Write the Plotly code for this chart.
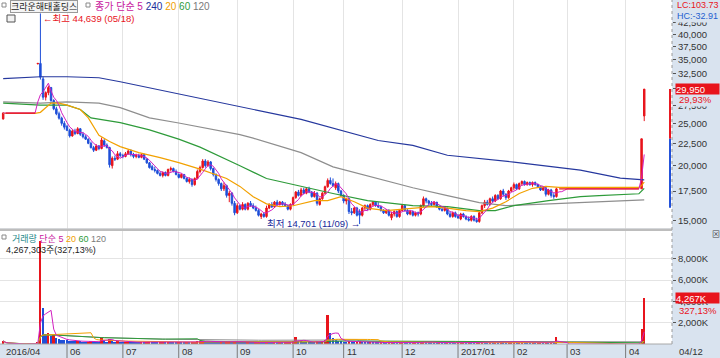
import math
import pandas as pd
import plotly.graph_objects as go

# ---------------- data ----------------
# trading-day index, 0 = 2016-06-01
day_index = list(range(-24, 218))

opens = [
    25600,
    26400, 26400, 26400, 26400, 26400, 26400, 26400, 26400, 26400, 26400, 26400, 26400,
    34200, 34300, 31600, 28700, 29400, 30200, 28200, 27000, 26300, 25700, 25000,
    24600, 24100, 23400, 24000, 23700, 24300, 23600, 23300, 23000, 22500,
    22000, 21700, 22200, 21900, 22800, 22300, 22000, 20000, 20800, 20700,
    21300, 21100, 21000, 21300, 21600, 21200, 21000, 21100, 20900, 21200,
    20700, 20300, 19900, 19600, 19500, 19200, 19000, 19300, 19000, 19600,
    19700, 19400, 19100, 18800, 19100, 18700, 18400, 18600, 18100, 18700,
    19400, 19800, 20500, 20000, 20400, 19700, 19100, 18600, 18200, 17700,
    18000, 17100, 17300, 16400, 15600, 16200, 15900, 16300, 15900, 16400,
    16200, 16000, 15800, 15300, 15500, 15300, 16000, 16300, 16100, 16500,
    16300, 16500, 16300, 16200, 15900, 16300, 16900, 17400, 17100, 17600,
    17300, 17700, 17400, 17000, 17300, 16300, 16800, 17300, 17900, 18500,
    18200, 17800, 18200, 17500, 17100, 16600, 16800, 15700, 15600, 16000,
    15700, 15400, 16000, 16200, 15900, 16300, 16500, 16200, 16100, 15800,
    15600, 15800, 15200, 15500, 15700, 15300, 15800, 16200, 15800, 15500,
    15700, 15400, 15600, 15500, 16200, 16800, 16600, 16400, 16300, 16500,
    16100, 15900, 15800, 16000, 15500, 15300, 15600, 15300, 15100, 15500,
    15300, 15100, 15000, 15300, 15000, 14900, 15600, 16200, 16500, 16300,
    16800, 16600, 17100, 16800, 17500, 17200, 16900, 17500, 17800, 18100,
    17700, 18200, 18400, 18100, 18300, 18100, 18300, 18100, 17900, 17600,
    17800, 17200, 17600, 17100, 17000,
    17700, 17700, 17700, 17700, 17700, 17700, 17700, 17700, 17700, 17700,
    17700, 17700, 17700, 17700, 17700, 17700, 17700, 17700, 17700, 17700,
    17700, 17700, 17700, 17700, 17700, 17700, 17700, 17700, 17700, 17700, 17700,
    17700, 26000,
]

highs = [
    26500,
    26400, 26400, 26400, 26400, 26400, 26400, 26400, 26400, 26400, 26400, 26400, 26400,
    34300, 44639, 32000, 29600, 30500, 30300, 28400, 27300, 26600, 25900, 25300,
    24800, 24300, 24200, 24300, 24500, 24400, 23900, 23500, 23100, 22700,
    22200, 22400, 22300, 23200, 23000, 22500, 22100, 21000, 21100, 21600,
    21500, 21300, 21500, 21800, 21800, 21400, 21300, 21300, 21300, 21300,
    20800, 20400, 20100, 19900, 19600, 19400, 19400, 19400, 19700, 19900,
    19800, 19600, 19200, 19200, 19100, 18800, 18800, 18700, 18800, 19600,
    20000, 20700, 20700, 20600, 20500, 19800, 19200, 18700, 18300, 18300,
    18100, 17500, 17400, 16600, 16400, 16300, 16500, 16400, 16500, 16600,
    16400, 16200, 15900, 15600, 15600, 16200, 16400, 16500, 16600, 16700,
    16600, 16600, 16500, 16300, 16400, 17000, 17500, 17600, 17800, 17800,
    17800, 17900, 17500, 17500, 17400, 16900, 17400, 18000, 18700, 18800,
    18700, 18400, 18300, 17600, 17200, 16900, 16900, 16000, 16100, 16100,
    15900, 16100, 16300, 16300, 16400, 16600, 16600, 16500, 16200, 15900,
    15900, 15900, 15700, 15800, 15800, 15900, 16300, 16300, 15900, 15800,
    15800, 15700, 15700, 16300, 17000, 16900, 16700, 16600, 16600, 16500,
    16200, 16100, 16100, 16000, 15700, 15700, 15700, 15500, 15600, 15600,
    15400, 15300, 15400, 15400, 15200, 15700, 16300, 16700, 16700, 16900,
    17000, 17200, 17200, 17600, 17700, 17300, 17600, 17900, 18300, 18200,
    18300, 18500, 18500, 18400, 18400, 18400, 18400, 18200, 18000, 17900,
    17900, 17700, 17700, 17300, 17800,
    17700, 17700, 17700, 17700, 17700, 17700, 17700, 17700, 17700, 17700,
    17700, 17700, 17700, 17700, 17700, 17700, 17700, 17700, 17700, 17700,
    17700, 17700, 17700, 17700, 17700, 17700, 17700, 17700, 17700, 17700, 17700,
    23050, 29950,
]

lows = [
    25500,
    26400, 26400, 26400, 26400, 26400, 26400, 26400, 26400, 26400, 26400, 26400, 26400,
    34200, 31500, 28300, 28200, 29000, 28000, 26800, 26100, 25500, 24700, 24200,
    24000, 23200, 23300, 23500, 23600, 23400, 23100, 22900, 22400, 21900,
    21500, 21600, 21700, 21800, 22100, 21900, 19800, 19700, 20500, 20600,
    20900, 20800, 20900, 21200, 21000, 20800, 20800, 20800, 20800, 20600,
    20200, 19700, 19500, 19300, 19100, 18900, 18800, 18900, 18900, 19400,
    19300, 19000, 18700, 18700, 18600, 18300, 18200, 17900, 18000, 18600,
    19200, 19700, 19800, 19900, 19500, 18900, 18400, 18000, 17500, 17500,
    16900, 16500, 16200, 15400, 15500, 15800, 15800, 15800, 15800, 16100,
    15900, 15700, 15300, 15100, 15200, 15200, 15900, 16000, 16000, 16200,
    16200, 16200, 16100, 15800, 15800, 16200, 16800, 17000, 17000, 17200,
    17200, 17300, 16900, 16900, 16200, 16200, 16700, 17200, 17800, 18100,
    17900, 17600, 17300, 17000, 16400, 16300, 15500, 15400, 15500, 15300,
    14701, 15300, 15800, 15800, 15800, 16100, 16100, 16000, 15700, 15500,
    15500, 15300, 15000, 15300, 15200, 15200, 15700, 15700, 15400, 15400,
    15300, 15300, 15300, 15400, 16100, 16400, 16200, 16100, 16200, 16000,
    15800, 15700, 15700, 15400, 15200, 15200, 15200, 15100, 15000, 15200,
    15000, 14900, 14900, 14900, 14800, 14800, 15500, 16000, 16200, 16200,
    16500, 16500, 16700, 16700, 17000, 16700, 16800, 17400, 17600, 17600,
    17600, 18000, 18000, 18000, 18000, 17900, 18000, 17800, 17500, 17500,
    17000, 17100, 16900, 16800, 16900,
    17700, 17700, 17700, 17700, 17700, 17700, 17700, 17700, 17700, 17700,
    17700, 17700, 17700, 17700, 17700, 17700, 17700, 17700, 17700, 17700,
    17700, 17700, 17700, 17700, 17700, 17700, 17700, 17700, 17700, 17700, 17700,
    17700, 25300,
]

closes = [
    26400,
    26400, 26400, 26400, 26400, 26400, 26400, 26400, 26400, 26400, 26400, 26400, 26400,
    34300, 31900, 28700, 29400, 30200, 28200, 27000, 26300, 25700, 25000, 24500,
    24100, 23400, 24000, 23700, 24300, 23600, 23300, 23000, 22500, 22000,
    21700, 22200, 21900, 22900, 22300, 22000, 20100, 20800, 20700, 21300,
    21100, 21000, 21300, 21600, 21200, 21000, 21100, 20900, 21200, 20700,
    20300, 19800, 19600, 19500, 19200, 19000, 19300, 19000, 19600, 19700,
    19400, 19100, 18800, 19100, 18700, 18400, 18600, 18100, 18700, 19400,
    19800, 20500, 20000, 20400, 19700, 19100, 18600, 18200, 17700, 18000,
    17100, 17300, 16400, 15600, 16200, 15900, 16300, 15900, 16400, 16200,
    16000, 15800, 15400, 15500, 15300, 16000, 16300, 16100, 16500, 16300,
    16500, 16300, 16200, 15900, 16300, 16900, 17400, 17100, 17600, 17300,
    17700, 17400, 17000, 17300, 16400, 16800, 17300, 17900, 18500, 18200,
    18000, 18200, 17500, 17100, 16600, 16800, 15700, 15600, 16000, 15400,
    15400, 16000, 16200, 15900, 16300, 16500, 16200, 16100, 15800, 15600,
    15800, 15400, 15500, 15700, 15300, 15800, 16200, 15800, 15500, 15700,
    15400, 15600, 15500, 16200, 16800, 16600, 16400, 16300, 16500, 16100,
    15900, 15800, 16000, 15500, 15300, 15600, 15300, 15200, 15500, 15300,
    15100, 15000, 15300, 15000, 14900, 15600, 16200, 16500, 16300, 16800,
    16600, 17100, 16800, 17500, 17200, 16900, 17500, 17800, 18100, 17700,
    18200, 18400, 18100, 18300, 18100, 18300, 18100, 17900, 17600, 17800,
    17200, 17600, 17100, 17000, 17700,
    17700, 17700, 17700, 17700, 17700, 17700, 17700, 17700, 17700, 17700,
    17700, 17700, 17700, 17700, 17700, 17700, 17700, 17700, 17700, 17700,
    17700, 17700, 17700, 17700, 17700, 17700, 17700, 17700, 17700, 17700, 17700,
    23050, 29950,
]

volumes = [
    280000,
    0, 0, 0, 0, 0, 0, 0, 0, 0, 0, 0, 0,
    150000, 9650000, 3400000, 950000, 1030000, 750000, 850000, 520000, 480000, 420000, 380000,
    350000, 300000, 280000, 250000, 300000, 260000, 220000, 200000, 230000, 250000,
    240000, 200000, 180000, 700000, 350000, 220000, 450000, 380000, 220000, 250000,
    180000, 170000, 200000, 230000, 190000, 160000, 150000, 140000, 170000, 160000,
    180000, 220000, 190000, 160000, 150000, 170000, 180000, 140000, 200000, 180000,
    150000, 140000, 160000, 150000, 140000, 170000, 150000, 190000, 210000, 260000,
    280000, 300000, 240000, 220000, 200000, 190000, 180000, 170000, 210000, 200000,
    230000, 250000, 220000, 280000, 240000, 180000, 170000, 150000, 160000, 140000,
    130000, 140000, 170000, 160000, 130000, 190000, 170000, 140000, 150000, 130000,
    140000, 120000, 130000, 150000, 160000, 280000, 650000, 300000, 260000, 220000,
    200000, 180000, 170000, 160000, 240000, 190000, 220000, 380000, 2700000, 1030000,
    600000, 420000, 300000, 250000, 230000, 200000, 280000, 230000, 190000, 210000,
    300000, 230000, 180000, 160000, 170000, 150000, 140000, 130000, 150000, 140000,
    130000, 150000, 160000, 140000, 130000, 150000, 170000, 140000, 130000, 120000,
    120000, 130000, 120000, 180000, 260000, 190000, 150000, 140000, 130000, 120000,
    130000, 120000, 110000, 150000, 140000, 120000, 110000, 120000, 130000, 140000,
    120000, 130000, 120000, 110000, 130000, 200000, 250000, 220000, 180000, 210000,
    190000, 200000, 170000, 230000, 190000, 180000, 200000, 210000, 240000, 190000,
    200000, 220000, 180000, 170000, 160000, 170000, 150000, 160000, 170000, 150000,
    190000, 180000, 200000, 170000, 650000,
    0, 0, 0, 0, 0, 0, 0, 0, 0, 0,
    0, 0, 0, 0, 0, 0, 0, 0, 0, 0,
    0, 0, 0, 0, 0, 0, 0, 0, 0, 0, 0,
    1450000, 4267303,
]

ma20_idx = [-24, -12, -10, -6, -3, 0, 5, 8, 12, 16, 20, 27, 35, 42, 50, 57, 60, 65, 70, 75,
            80, 85, 88, 93, 98, 103, 108, 113, 120, 125, 133, 137, 143, 150, 155, 160, 165,
            170, 175, 180, 185, 215, 216, 217]
ma20_val = [26350, 26350, 26500, 27820, 27820, 27520, 26900, 25730, 23470, 22710, 22120, 21430,
            20870, 20330, 19640, 18940, 18690, 17930, 16980, 16350, 16110, 16190, 16350, 16630,
            16630, 16980, 16540, 15990, 15780, 15870, 15990, 16110, 15990, 15780, 15700, 15990,
            16540, 17270, 17750, 17930, 17840, 17840, 18000, 18350]
ma60_idx = [-24, -10, 0, 5, 9, 20, 31, 42, 50, 57, 65, 75, 88, 100, 113, 125, 130, 143, 155,
            161, 168, 181, 193, 200, 210, 215, 217]
ma60_val = [27820, 27520, 27520, 26900, 25730, 25100, 24160, 23010, 22060, 21030, 19990, 18690,
            17910, 17270, 16630, 16370, 16200, 16110, 15780, 15780, 16200, 16630, 16980, 17070,
            17160, 17250, 17750]
ma120_idx = [-24, -10, 0, 12, 20, 31, 42, 65, 70, 88, 100, 125, 130, 143, 155, 165, 181, 208, 217]
ma120_val = [28000, 27820, 28000, 27820, 27170, 25730, 25050, 23550, 23120, 21430, 19870, 18190,
             17800, 17080, 16460, 16200, 16370, 16630, 16700]
ma240_idx = [-24, -10, 0, 12, 20, 40, 65, 88, 117, 130, 143, 168, 193, 200, 208, 217]
ma240_val = [31640, 31970, 31970, 31800, 31140, 29380, 27250, 25530, 22840, 22260, 21130, 20380,
             19540, 19130, 18730, 18560]

# right-edge change bar (prev close -> current, and down to reference low)
change_bar_up = [23050, 29950]
change_bar_down = [16030, 23050]

month_idx = [-24, 0, 21, 42, 64, 85, 104, 126, 147, 168, 188, 210]
month_labels = ["2016/04", "06", "07", "08", "09", "10", "11", "12", "2017/01", "02", "03", "04"]

price_ticks = [15000, 17500, 20000, 22500, 25000, 27500, 30000, 32500, 35000, 37500, 40000, 42500]
price_grid = [15000, 17500, 20000, 22500, 25000, 30000, 35000, 40000, 45000]
vol_ticks = [2000000, 4000000, 6000000, 8000000]

for name, arr in [("opens", opens), ("highs", highs), ("lows", lows), ("closes", closes), ("volumes", volumes)]:
    assert len(arr) == len(day_index), (name, len(arr))

# ---------------- styling ----------------
W, H = 720, 358
RED = "#e8141c"
BLUE = "#1f4fd8"
C_MA5 = "#d21fc0"
C_MA20 = "#f2a100"
C_MA60 = "#2e9b3a"
C_MA120 = "#8e8e8e"
C_MA240 = "#26389e"
PANEL_BG = "#d9e3ef"
GRID = "#e4e4e4"
FONT = "Liberation Sans, Noto Sans CJK KR, sans-serif"
X_LEFT, X_RIGHT = -25.19, 227.44
PLOT_R = 672 / W


def py(p):
    return 1 - p / H


df = pd.DataFrame({"i": day_index, "o": opens, "h": highs, "l": lows, "c": closes, "v": volumes})
traded = df[df.v > 0]
halted_y = [c if v == 0 else None for c, v in zip(closes, volumes)]
ma5 = df.c.rolling(5, min_periods=1).mean()

vol_colors = []
prev = 0
for v in volumes:
    vol_colors.append(RED if v >= prev else BLUE)
    prev = v
vma = {n: df.v.rolling(n, min_periods=1).mean() for n in (5, 20, 60, 120)}

fig = go.Figure()

# price candles
fig.add_trace(go.Candlestick(
    x=traded.i, open=traded.o, high=traded.h, low=traded.l, close=traded.c,
    increasing=dict(line=dict(color=RED, width=1), fillcolor=RED),
    decreasing=dict(line=dict(color=BLUE, width=1), fillcolor=BLUE),
    whiskerwidth=0, xaxis="x", yaxis="y", showlegend=False, hoverinfo="skip"))

for xs, ys, col in [(ma240_idx, ma240_val, C_MA240), (ma120_idx, ma120_val, C_MA120),
                    (ma60_idx, ma60_val, C_MA60), (ma20_idx, ma20_val, C_MA20)]:
    fig.add_trace(go.Scatter(x=xs, y=ys, mode="lines", line=dict(color=col, width=1.2),
                             xaxis="x", yaxis="y", showlegend=False, hoverinfo="skip"))
fig.add_trace(go.Scatter(x=day_index, y=ma5, mode="lines", line=dict(color=C_MA5, width=1),
                         xaxis="x", yaxis="y", showlegend=False, hoverinfo="skip"))
fig.add_trace(go.Scatter(x=day_index, y=halted_y, mode="lines", connectgaps=False,
                         line=dict(color=RED, width=1.2), xaxis="x", yaxis="y",
                         showlegend=False, hoverinfo="skip"))

bar_x = 226.7
fig.add_trace(go.Scatter(x=[bar_x, bar_x], y=change_bar_up, mode="lines", line=dict(color=RED, width=2),
                         xaxis="x", yaxis="y", showlegend=False, hoverinfo="skip"))
fig.add_trace(go.Scatter(x=[bar_x, bar_x], y=change_bar_down, mode="lines", line=dict(color=BLUE, width=2),
                         xaxis="x", yaxis="y", showlegend=False, hoverinfo="skip"))

# volume
fig.add_trace(go.Bar(x=day_index, y=volumes, marker=dict(color=vol_colors, line=dict(width=0)),
                     width=0.75, xaxis="x2", yaxis="y2", showlegend=False, hoverinfo="skip"))
for n, col in [(120, C_MA120), (60, C_MA60), (20, C_MA20), (5, C_MA5)]:
    fig.add_trace(go.Scatter(x=day_index, y=vma[n], mode="lines", line=dict(color=col, width=1),
                             xaxis="x2", yaxis="y2", showlegend=False, hoverinfo="skip"))

shapes = []
# horizontal price grid (log axis -> log10 coordinates)
for g in price_grid:
    shapes.append(dict(type="line", xref="x", yref="y", x0=X_LEFT, x1=X_RIGHT,
                       y0=math.log10(g), y1=math.log10(g), line=dict(color=GRID, width=1), layer="below"))
# panel separator
shapes.append(dict(type="rect", xref="paper", yref="paper", x0=0, x1=PLOT_R, y0=py(231), y1=py(228.5),
                   fillcolor="#bdbdbd", line=dict(width=0)))
# right panel border
shapes.append(dict(type="line", xref="paper", yref="paper", x0=PLOT_R, x1=PLOT_R, y0=py(344), y1=1,
                   line=dict(color="#9a9a9a", width=1, dash="dot")))
# bottom axis ticks
for m in month_idx[1:]:
    shapes.append(dict(type="line", xref="x", yref="paper", x0=m, x1=m, y0=py(358), y1=py(344),
                       line=dict(color="#7a7a7a", width=1)))
shapes.append(dict(type="line", xref="paper", yref="paper", x0=0, x1=PLOT_R, y0=py(344), y1=py(344),
                   line=dict(color="#a8a8a8", width=1)))
# small legend boxes
for x0, y0 in [(2, 3), (86, 3), (2, 235)]:
    shapes.append(dict(type="rect", xref="paper", yref="paper", x0=x0 / W, x1=(x0 + 4) / W,
                       y0=py(y0 + 4), y1=py(y0), line=dict(color="#8a8a8a", width=1), fillcolor="white"))
shapes.append(dict(type="rect", xref="paper", yref="paper", x0=7 / W, x1=15 / W, y0=py(22), y1=py(15),
                   line=dict(color="#555", width=1), fillcolor="#f2f2f2"))

ann = []


def txt(x, y, text, color="#222", size=10, xanchor="left", **kw):
    d = dict(xref="paper", yref="paper", x=x / W, y=py(y), text=text, showarrow=False,
             xanchor=xanchor, yanchor="middle", font=dict(family=FONT, size=size, color=color))
    d.update(kw)
    ann.append(d)


txt(10, 7, "크라운해태홀딩스", size=9, bgcolor="#f4f4f4", bordercolor="#9a9a9a", borderwidth=1, borderpad=0)
txt(93, 7, '<span style="color:#c8179e">종가 단순 5</span> '
           '<span style="color:#1c2f9c">240</span> <span style="color:#f0a000">20</span> '
           '<span style="color:#2e9b3a">60</span> <span style="color:#7a7a7a">120</span>', size=10)
txt(41, 18, "←최고 44,639 (05/18)", color=RED, size=9.5)
txt(265, 223, "최저 14,701 (11/09) →", color="#1a2a9a", size=9.5)
txt(10, 238.5, '<span style="color:#1f8a8a">거래량</span> <span style="color:#c8179e">단순 5</span> '
               '<span style="color:#f0a000">20</span> <span style="color:#2e9b3a">60</span> '
               '<span style="color:#7a7a7a">120</span>', size=9)
txt(4, 250, "4,267,303주(327,13%)", size=9)
txt(675, 22, " ", size=9)
txt(675, 5, "LC:103.73", color=RED, size=9, bgcolor=PANEL_BG)
txt(675, 16, "HC:-32.91", color="#1f5fd0", size=9, bgcolor=PANEL_BG)
txt(677, 99.5, "29,93%", color=RED, size=9.5, bgcolor=PANEL_BG)
txt(677, 310, "327,13%", color=RED, size=9.5)
txt(677, 351, "04/12", color="#333", size=9.5)
txt(710, 235, "⊠", color="#444", size=8, xanchor="left")

ann.append(dict(xref="paper", yref="y", x=675 / W, y=math.log10(29950), text="29,950", showarrow=False,
                xanchor="left", yanchor="middle", align="left", width=43, height=10, bgcolor=RED,
                font=dict(family=FONT, size=9.5, color="white"), borderpad=0))
ann.append(dict(xref="paper", yref="y2", x=675 / W, y=4267303, text="4,267K", showarrow=False,
                xanchor="left", yanchor="middle", align="left", width=43, height=10, bgcolor=RED,
                font=dict(family=FONT, size=9.5, color="white"), borderpad=0))

for m, lab in zip(month_idx, month_labels):
    ann.append(dict(xref="x", yref="paper", x=m, y=py(351), text=lab, showarrow=False,
                    xanchor="left", yanchor="middle", xshift=1,
                    font=dict(family=FONT, size=9.5, color="#333")))

grid_x = month_idx[1:]

fig.update_layout(
    width=W, height=H, margin=dict(l=0, r=0, t=0, b=0),
    paper_bgcolor=PANEL_BG, plot_bgcolor="white",
    showlegend=False, shapes=shapes, annotations=ann,
    boxgap=0.45, boxgroupgap=0, bargap=0,
    font=dict(family=FONT, size=10, color="#333"),
    xaxis=dict(domain=[0, PLOT_R], range=[X_LEFT, X_RIGHT], anchor="y", showticklabels=False,
               tickvals=grid_x, showgrid=True, gridcolor=GRID, zeroline=False, ticks="",
               rangeslider=dict(visible=False), fixedrange=True),
    yaxis=dict(domain=[py(228.5), 1], type="log",
               range=[math.log10(14360), math.log10(47920)], side="right", anchor="x",
               tickvals=price_ticks, ticktext=[f"{t:,}" for t in price_ticks],
               ticks="outside", ticklen=3, tickcolor="#555", showgrid=False, zeroline=False,
               tickfont=dict(family=FONT, size=9.5, color="#333")),
    xaxis2=dict(domain=[0, PLOT_R], range=[X_LEFT, X_RIGHT], anchor="y2", matches="x",
                showticklabels=False, tickvals=grid_x, showgrid=True, gridcolor=GRID,
                zeroline=False, ticks=""),
    yaxis2=dict(domain=[py(344), py(231)], range=[0, 10594000], side="right", anchor="x2",
                tickvals=vol_ticks, ticktext=[f"{int(t/1000):,}K" for t in vol_ticks],
                ticks="outside", ticklen=3, tickcolor="#555", showgrid=True, gridcolor=GRID,
                zeroline=False, tickfont=dict(family=FONT, size=9.5, color="#333")),
)

fig.write_html("out.html", config={"displayModeBar": False},
               post_script="document.body.style.margin='0';document.body.style.overflow='hidden';")
